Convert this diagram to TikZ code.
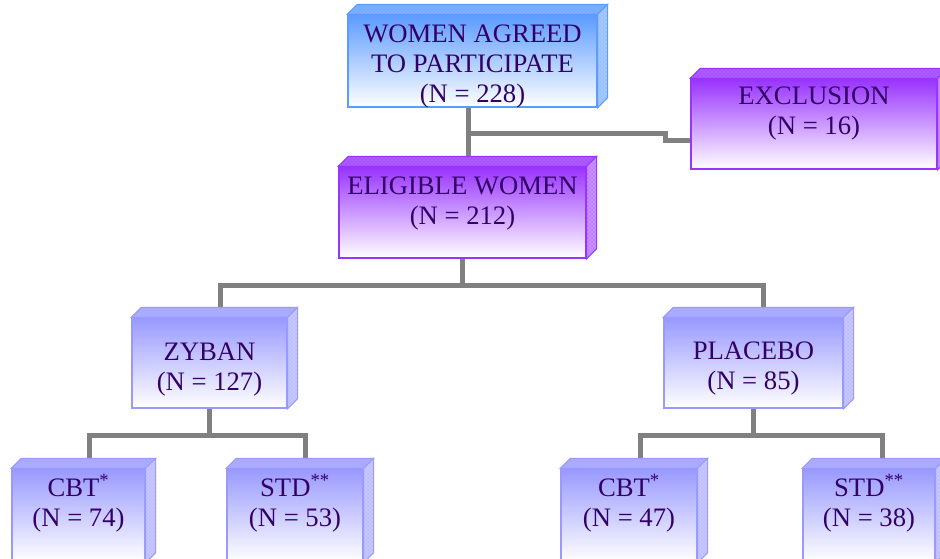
\documentclass[tikz,border=0pt]{standalone}
\usepackage{fontspec}
\setmainfont{Liberation Serif}
\usetikzlibrary{positioning,patterns,backgrounds}
\definecolor{agreeblue}{HTML}{5C9BFF}
\definecolor{exclviolet}{HTML}{9933FF}
\definecolor{armlav}{HTML}{9999FF}
\definecolor{linkgray}{HTML}{808080}
\definecolor{inkpurple}{HTML}{330066}
\begin{document}
\begin{tikzpicture}[x=0.75pt,y=-0.75pt,
  box/.style={draw=#1, line width=1pt, top color=#1, bottom color=white, minimum height=67.5pt, inner sep=0pt},
  txt/.style={text=inkpurple, font=\fontsize{20}{22.5}\selectfont, align=center, inner sep=0pt},
  link/.style={draw=linkgray, line width=3.75pt}]
\useasboundingbox (0,0) rectangle (940,558);
\clip (0,0) rectangle (940,558);
% front faces
\node[box=agreeblue, minimum width=186.75pt, minimum height=69pt] (agree) at (472.5,61) {};
\node[box=exclviolet, minimum width=184.5pt] (excl) at (814,124) {};
\node[box=exclviolet, minimum width=185.25pt, minimum height=68.25pt] (elig) at (462.5,212.5) {};
\node[box=armlav, minimum width=116.25pt] (zyban) at (209.5,363) {};
\node[box=armlav, minimum width=134.25pt] (placebo) at (753.5,363) {};
\node[box=armlav, minimum width=99.75pt, minimum height=69.75pt] (cbt1) at (78.5,515.5) {};
\node[box=armlav, minimum width=102pt, minimum height=69.75pt] (std1) at (295,515.5) {};
\node[box=armlav, minimum width=102pt, minimum height=69.75pt] (cbt2) at (629,515.5) {};
\node[box=armlav, minimum width=99pt, minimum height=69.75pt] (std2) at (869,515.5) {};
% top and right faces
\foreach \n/\c in {agree/agreeblue, excl/exclviolet, elig/exclviolet, zyban/armlav, placebo/armlav,
                   cbt1/armlav, std1/armlav, cbt2/armlav, std2/armlav}{
  \draw[draw=\c, line width=0.75pt, preaction={fill=\c!80!white}, pattern=crosshatch dots, pattern color=\c]
    (\n.north west) -- ([shift={(10,-10)}]\n.north west) -- ([shift={(10,-10)}]\n.north east) -- (\n.north east) -- cycle;
  \draw[draw=\c, line width=0.75pt, preaction={fill=\c!55!white}, pattern=crosshatch dots, pattern color=\c!85!white]
    (\n.north east) -- ([shift={(10,-10)}]\n.north east) -- ([shift={(10,-10)}]\n.south east) -- (\n.south east) -- cycle;
}
% labels
\node[txt, below=7.5pt of agree.north] (agree-t) {WOMEN AGREED\\TO PARTICIPATE\\(N = 228)};
\node[txt, below=6pt of excl.north] (excl-t) {EXCLUSION\\(N = 16)};
\node[txt, below=7.5pt of elig.north] (elig-t) {ELIGIBLE WOMEN\\(N = 212)};
\node[txt, below=18.75pt of zyban.north] (zyban-t) {ZYBAN\\(N = 127)};
\node[txt, below=18pt of placebo.north] (placebo-t) {PLACEBO\\(N = 85)};
\node[txt, below=4.5pt of cbt1.north] (cbt1-t) {CBT\textsuperscript{*}\\(N = 74)};
\node[txt, below=4.5pt of std1.north] (std1-t) {STD\textsuperscript{**}\\(N = 53)};
\node[txt, below=4.5pt of cbt2.north] (cbt2-t) {CBT\textsuperscript{*}\\(N = 47)};
\node[txt, below=4.5pt of std2.north] (std2-t) {STD\textsuperscript{**}\\(N = 38)};
% connectors
\coordinate (j1) at (468,133);
\coordinate (j2) at (665,140);
\coordinate (bar2l) at (220,285);
\coordinate (bar2r) at (763,285);
\coordinate (bar3l) at (89,435);
\coordinate (bar3r) at (305,435);
\coordinate (bar4l) at (640,435);
\coordinate (bar4r) at (882,435);
\begin{pgfonlayer}{background}
\draw[link] (agree.south -| j1) -- (elig.north -| j1);
\draw[link] (j1) -| (j2) -- (excl.west |- j2);
\draw[link] (elig.south) -- (elig.south |- bar2l);
\draw[link] (zyban.north -| bar2l) -- (bar2l) -- (bar2r) -- (placebo.north -| bar2r);
\draw[link] (zyban.south) -- (zyban.south |- bar3l);
\draw[link] (cbt1.north -| bar3l) -- (bar3l) -- (bar3r) -- (std1.north -| bar3r);
\draw[link] (placebo.south) -- (placebo.south |- bar4l);
\draw[link] (cbt2.north -| bar4l) -- (bar4l) -- (bar4r) -- (std2.north -| bar4r);
\end{pgfonlayer}
\end{tikzpicture}
\end{document}
